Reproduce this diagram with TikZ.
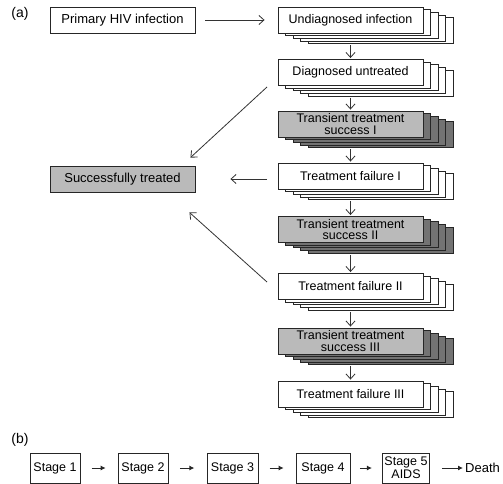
\documentclass[tikz,border=0pt]{standalone}
\usepackage{fontspec}
\setmainfont{Liberation Sans}
\usetikzlibrary{arrows.meta,calc}
\newcommand\stackedbox[5]{%
  \foreach \k in {4,3,2,1}{\node[sbox,fill=#5] (#1-\k) at (350.5+7.5*\k, #2+2.7*\k) {};}
  \node[sbox,fill=#4] (#1) at (350.5,#2) {#3};
}
\begin{document}
\begin{tikzpicture}[x=1pt,y=-1pt,
  box/.style={draw=black!85, line width=0.9pt, minimum width=145pt, minimum height=26pt,
    inner sep=0pt, font=\fontsize{13}{14}\selectfont},
  sbox/.style={draw=black!85, line width=0.9pt, minimum width=145pt, minimum height=26pt,
    inner sep=0pt, align=center, font=\fontsize{12.5}{11.5}\selectfont},
  arr/.style={-{Straight Barb[length=5pt,width=9pt]}, line width=0.8pt, draw=black!80},
  stg/.style={draw=black!85, line width=0.9pt, minimum height=30pt, inner sep=0pt,
    align=center, font=\fontsize{12.5}{13}\selectfont},
  sarr/.style={-{Latex[length=5pt,width=5pt]}, line width=0.9pt, draw=black!85},
  lab/.style={font=\fontsize{14}{14}\selectfont, inner sep=0pt}
]
\useasboundingbox (0,0) rectangle (503,484);
\colorlet{lightg}{black!27}
\colorlet{darkg}{black!55}

\node[lab] (la) at (20,14) {(a)};
\node[box, fill=white] (prim) at (122.5,20) {Primary HIV infection};
\node[box, fill=lightg] (succ) at (122.5,179) {Successfully treated};

\stackedbox{undiag}{20}{Undiagnosed infection}{white}{white}
\stackedbox{diag}{72.5}{Diagnosed untreated}{white}{white}
\stackedbox{tsone}{124}{Transient treatment\\success I}{lightg}{darkg}
\stackedbox{tfone}{176}{Treatment failure I}{white}{white}
\stackedbox{tstwo}{229.5}{Transient treatment\\success II}{lightg}{darkg}
\stackedbox{tftwo}{286.5}{Treatment failure II}{white}{white}
\stackedbox{tsthree}{341}{Transient treatment\\success III}{lightg}{darkg}
\stackedbox{tfthree}{394}{Treatment failure III}{white}{white}

% vertical arrows
\foreach \a/\b in {undiag/diag, diag/tsone, tsone/tfone, tfone/tstwo, tstwo/tftwo, tftwo/tsthree, tsthree/tfthree}{
  \draw[arr] (\a.south |- \a-4.south) ++(0,1) -- ($(\b.north)+(0,-1)$);
}

% horizontal arrow top
\draw[arr] ($(prim.east)+(10,0)$) -- ($(undiag.west)+(-13,0)$);

% arrows to successfully treated
\coordinate (d1) at (267,87);
\coordinate (d2) at (267,179);
\coordinate (d3) at (267,282);
\draw[arr] (d1) -- ($(succ.north east)+(-5,-8)$);
\draw[arr] (d2) -- ($(succ.east)+(35,0)$);
\draw[arr] (d3) -- ($(succ.south east)+(-6,20)$);

% part (b)
\node[lab] (lb) at (20,440) {(b)};
\node[stg, minimum width=50pt] (s1) at (55,468) {Stage 1};
\node[stg, minimum width=50pt] (s2) at (143,468) {Stage 2};
\node[stg, minimum width=51pt] (s3) at (232.5,468) {Stage 3};
\node[stg, minimum width=54pt] (s4) at (323,468) {Stage 4};
\node[stg, minimum width=47pt] (s5) at (406,468) {Stage 5\\AIDS};
\node[font=\fontsize{13}{14}\selectfont, inner sep=0pt, anchor=west] (death) at (465,468) {Death};
\foreach \a/\b in {s1/s2, s2/s3, s3/s4, s4/s5}{
  \draw[sarr] ($(\a.east)!0.3!(\b.west)$) -- ($(\a.east)!0.68!(\b.west)$);
}
\draw[sarr] ($(s5.east)+(12,0)$) -- ($(death.west)+(-2,0)$);
\end{tikzpicture}
\end{document}
